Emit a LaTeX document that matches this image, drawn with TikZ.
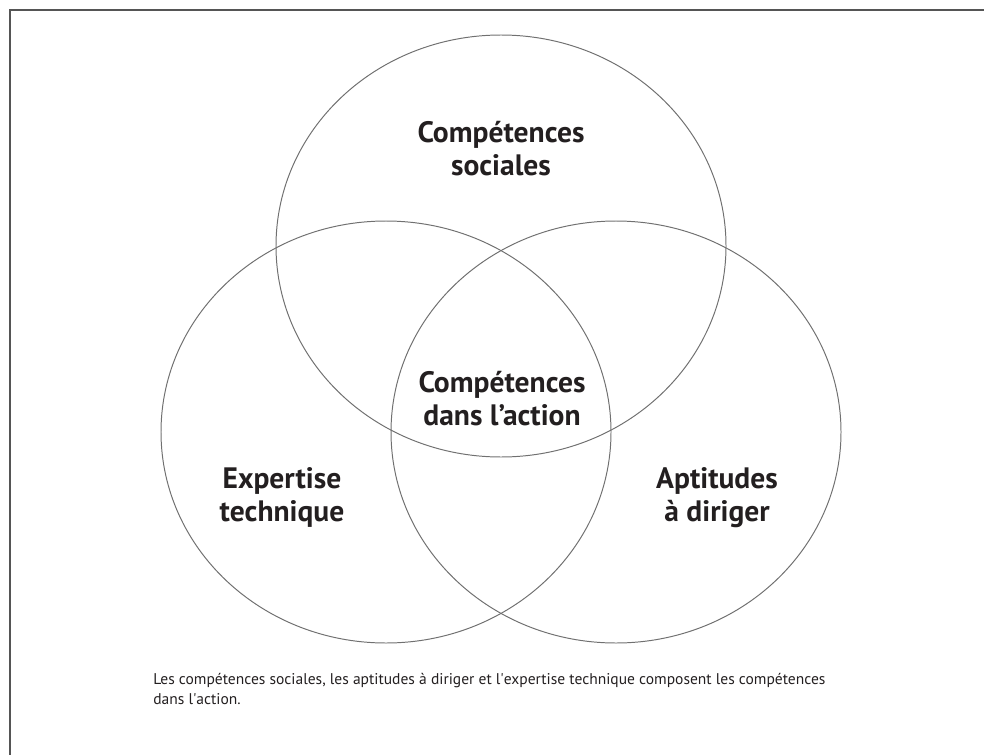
\documentclass[tikz,border=0pt]{standalone}
\usepackage{fontspec}
\setmainfont{PT Sans}
\usetikzlibrary{shapes.geometric}
\definecolor{inkgray}{HTML}{231F20}
\definecolor{ringgray}{HTML}{707070}
\definecolor{framegray}{HTML}{555555}

\begin{document}
\begin{tikzpicture}[
  ring/.style={
    draw=ringgray, line width=0.7pt, ellipse, inner sep=0pt,
    minimum width=11.25cm, minimum height=10.55cm
  },
  setlabel/.style={
    font=\fontsize{21}{23}\selectfont\bfseries, text=inkgray,
    align=center, anchor=base, inner sep=0pt
  },
  captiontext/.style={
    font=\fontsize{11.05}{14.2}\selectfont, text=inkgray,
    align=left, anchor=base west, inner sep=0pt
  },
]

% ============================================================
% Page area and outer frame (open to the right and bottom)
% ============================================================
\clip (0,0) rectangle (24.6,-18.85);
\draw[framegray, line width=1.5pt] (0.25,-19.5) -- (0.25,-0.25) -- (25,-0.25);

% ============================================================
% The three sets
% ============================================================
\node[ring] (social) at (12.525,-6.15) {};
\node[ring] (technical) at (9.65,-10.8) {};
\node[ring] (leading) at (15.4,-10.8) {};

% --- Set labels (placed on the baseline of their last line) ---
\node[setlabel] (social-label) at (12.525,-4.375)
  {Compétences\\sociales};
\node[setlabel] (action-label) at (12.55,-10.625)
  {Compétences\\dans l’action};
\node[setlabel] (technical-label) at (7.05,-13.025)
  {Expertise\\technique};
\node[setlabel] (leading-label) at (17.925,-13.025)
  {Aptitudes\\à diriger};

% ============================================================
% Caption
% ============================================================
\node[captiontext] (caption) at (3.825,-17.6)
  {Les compétences sociales, les aptitudes à diriger et l\textquotesingle expertise technique composent les compétences\\
   dans l\textquotesingle action.};

\end{tikzpicture}
\end{document}
